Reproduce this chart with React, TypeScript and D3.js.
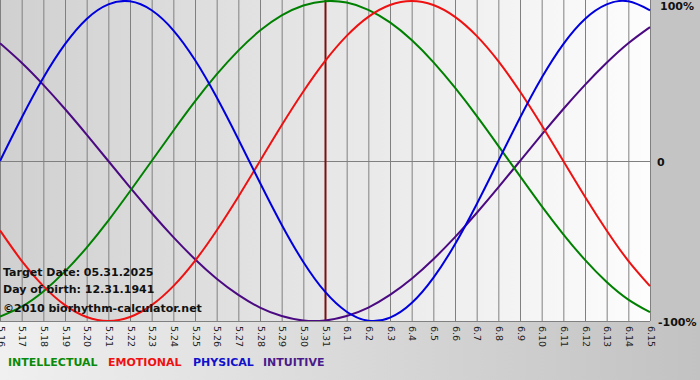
import React from "react";
import * as d3 from "d3";

const days = ["5.16","5.17","5.18","5.19","5.20","5.21","5.22","5.23","5.24","5.25","5.26","5.27","5.28","5.29","5.30","5.31","6.1","6.2","6.3","6.4","6.5","6.6","6.7","6.8","6.9","6.10","6.11","6.12","6.13","6.14","6.15"];

const physical = [0,0.27,0.52,0.73,0.888,0.979,0.998,0.942,0.817,0.631,0.398,0.136,-0.136,-0.398,-0.631,-0.817,-0.942,-0.998,-0.979,-0.888,-0.731,-0.52,-0.27,0,0.27,0.52,0.731,0.888,0.979,0.998,0.942];
const emotional = [-0.434,-0.624,-0.782,-0.901,-0.975,-1,-0.975,-0.901,-0.782,-0.624,-0.434,-0.223,0,0.223,0.434,0.624,0.782,0.901,0.975,1,0.975,0.901,0.782,0.624,0.434,0.223,0,-0.223,-0.434,-0.624,-0.782];
const intellectual = [-0.972,-0.91,-0.815,-0.69,-0.541,-0.372,-0.189,0,0.189,0.372,0.541,0.69,0.815,0.91,0.972,0.999,0.99,0.945,0.866,0.756,0.618,0.458,0.282,0.095,-0.095,-0.282,-0.458,-0.618,-0.756,-0.866,-0.945];
const intuitive = [0.736,0.614,0.476,0.325,0.165,0,-0.165,-0.325,-0.476,-0.614,-0.736,-0.837,-0.916,-0.969,-0.997,-0.997,-0.969,-0.916,-0.837,-0.736,-0.614,-0.476,-0.325,-0.165,0,0.165,0.325,0.476,0.614,0.736,0.837];

const seriesNames = ["INTELLECTUAL", "EMOTIONAL", "PHYSICAL", "INTUITIVE"];
const seriesColors = ["#008000", "#ee1111", "#0000dd", "#4b0a82"];
const legendColors = ["#0a8a0a", "#ee1111", "#1111cc", "#4b1a8a"];
const yTicks = [1, 0, -1];
const yTickLabels = ["100%", "0", "-100%"];
const targetIndex = 15;
const infoLines = ["Target Date: 05.31.2025", "Day of birth: 12.31.1941"];
const copyright = "\u00a92010 biorhythm-calculator.net";

export default function App() {
  const W = 700, H = 380;
  const plotL = 0, plotR = 650, plotT = 0, plotB = 321;
  const x = d3.scaleLinear().domain([0, days.length - 1]).range([plotL, plotR]);
  const y = d3.scaleLinear().domain([-1, 1]).range([321, 1]);
  const lineGen = d3.line<number>().x((_, i) => x(i)).y((v) => y(v)).curve(d3.curveNatural);
  const allSeries = [intellectual, emotional, physical, intuitive];
  const drawOrder = [3, 0, 1, 2];
  const font = "'DejaVu Sans', Verdana, sans-serif";
  const legendX = [8, 108, 193, 263];
  return (
    <div style={{ position: "absolute", left: 0, top: 0 }}>
      <svg width={W} height={H} style={{ display: "block" }}>
        <defs>
          <linearGradient id="plotbg" x1="0" x2="1" y1="0" y2="0">
            <stop offset="0" stopColor="#d0d0d0" />
            <stop offset="1" stopColor="#fdfdfd" />
          </linearGradient>
          <linearGradient id="pagebg" x1="0" x2="1" y1="0" y2="0">
            <stop offset="0" stopColor="#f0f0f0" />
            <stop offset="1" stopColor="#c2c2c2" />
          </linearGradient>
          <clipPath id="clip">
            <rect x={plotL} y={plotT} width={plotR - plotL + 1} height={plotB - plotT} />
          </clipPath>
        </defs>
        <rect x={0} y={0} width={W} height={H} fill="url(#pagebg)" />
        <rect x={plotR} y={0} width={W - plotR} height={plotB} fill="#c4c4c4" />
        <rect x={plotL} y={plotT} width={plotR - plotL} height={plotB - plotT} fill="url(#plotbg)" />
        {days.map((d, i) => (
          <line key={"g" + i} x1={x(i) + 0.5} x2={x(i) + 0.5} y1={plotT} y2={plotB} stroke="#808080" strokeWidth={1} />
        ))}
        <line x1={plotL} x2={plotR} y1={y(0) + 0.5} y2={y(0) + 0.5} stroke="#808080" strokeWidth={1} />
        <line x1={plotL} x2={plotR} y1={plotB + 0.5} y2={plotB + 0.5} stroke="#808080" strokeWidth={1} />
        <line x1={x(targetIndex) + 0.5} x2={x(targetIndex) + 0.5} y1={plotT} y2={plotB} stroke="#7a1010" strokeWidth={2} />
        <g clipPath="url(#clip)">
          {drawOrder.map((si) => (
            <path key={"s" + si} d={lineGen(allSeries[si]) || ""} fill="none" stroke={seriesColors[si]} strokeWidth={2} />
          ))}
        </g>
        {days.map((d, i) => (
          <text key={"t" + i} transform={`translate(${x(i) + 1},${plotB + 5}) rotate(90)`} fontFamily={font} fontSize={9.5} fill="#222" dominantBaseline="central">{d}</text>
        ))}
        {yTicks.map((v, i) => (
          <text key={"y" + i} x={i === 1 ? 657 : i === 0 ? 660 : 658} y={y(v) + (i === 0 ? 5 : 1)} fontFamily={font} fontSize={11} fontWeight="bold" fill="#111" dominantBaseline="central">{yTickLabels[i]}</text>
        ))}
        {infoLines.map((t, i) => (
          <text key={"i" + i} x={3} y={276 + i * 17} fontFamily={font} fontSize={11} fontWeight="bold" fill="#111">{t}</text>
        ))}
        <text x={3} y={312} fontFamily={font} fontSize={11} fontWeight="bold" fill="#111">{copyright}</text>
        {seriesNames.map((n, i) => (
          <text key={"l" + i} x={legendX[i]} y={366} fontFamily={font} fontSize={11} fontWeight="bold" fill={legendColors[i]}>{n}</text>
        ))}
      </svg>
    </div>
  );
}
